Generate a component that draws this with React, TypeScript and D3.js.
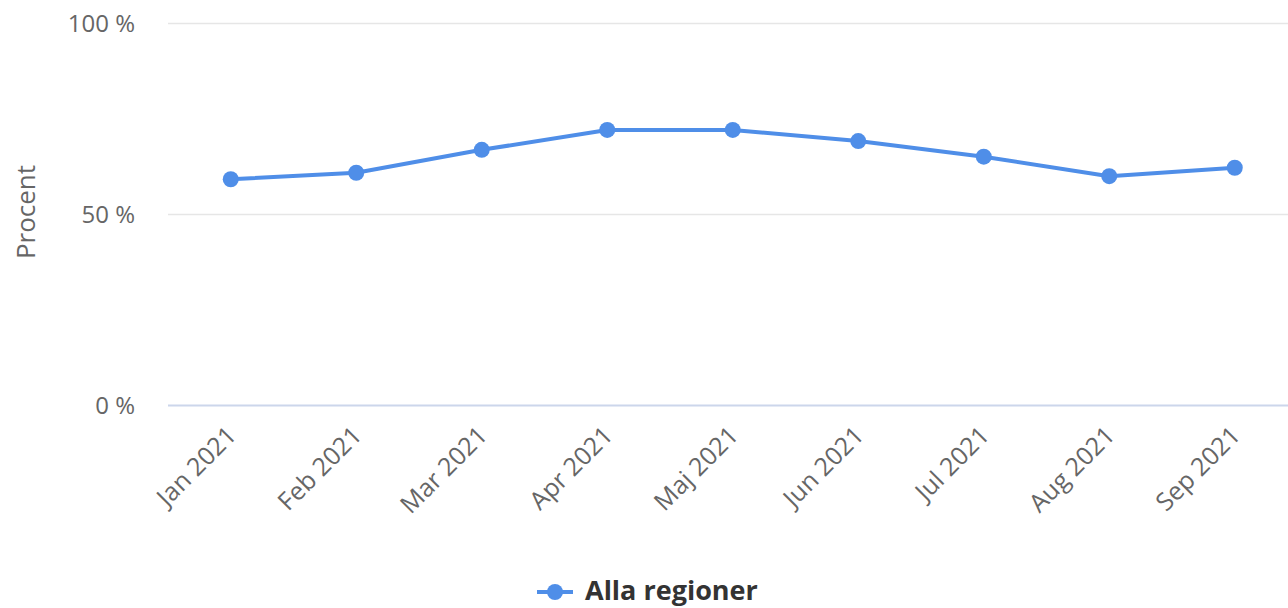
import React, { useEffect, useRef } from "react"
import * as d3 from "d3"

const WIDTH = 1288
const HEIGHT = 608

const months = ["Jan 2021", "Feb 2021", "Mar 2021", "Apr 2021", "Maj 2021", "Jun 2021", "Jul 2021", "Aug 2021", "Sep 2021"]
const allaRegioner = [59.1, 60.8, 66.8, 72.0, 72.0, 69.1, 65.0, 59.9, 62.1]
const yTicks = [0, 50, 100]
const seriesName = "Alla regioner"

const LINE_COLOR = "#4f8ee8"
const FONT = "'Open Sans', 'DejaVu Sans', sans-serif"

const App = () => {
	const svgRef = useRef<SVGSVGElement>(null)

	useEffect(() => {
		if (!svgRef.current) return
		const svg = d3.select(svgRef.current)
		svg.selectAll("*").remove()

		const margin = { top: 23, left: 168, bottom: HEIGHT - 405 }
		const bandWidth = 125.5
		const plotRight = margin.left + bandWidth * months.length

		const x = d3.scaleBand<string>().domain(months).range([margin.left, plotRight]).padding(0)
		const cx = (m: string) => (x(m) ?? 0) + x.bandwidth() / 2
		const y = d3.scaleLinear().domain([0, 100]).range([405, margin.top])

		// grid
		const grid = svg.append("g")
		grid.selectAll("line")
			.data(yTicks)
			.join("line")
			.attr("x1", margin.left)
			.attr("x2", plotRight)
			.attr("y1", (d) => y(d) + 0.5)
			.attr("y2", (d) => y(d) + 0.5)
			.attr("stroke", (d) => (d === 0 ? "#ccd6eb" : "#e6e6e6"))
			.attr("stroke-width", (d) => (d === 0 ? 2 : 1.5))

		// y labels
		svg.append("g")
			.selectAll("text")
			.data(yTicks)
			.join("text")
			.attr("x", 135)
			.attr("y", (d) => y(d) + 9)
			.attr("text-anchor", "end")
			.style("font-family", FONT)
			.style("font-size", "24px")
			.style("fill", "#666")
			.text((d) => `${d} %`)

		svg.append("text")
			.attr("transform", `translate(35,${y(50) - 2}) rotate(-90)`)
			.attr("text-anchor", "middle")
			.style("font-family", FONT)
			.style("font-size", "26px")
			.style("fill", "#666")
			.text("Procent")

		// x labels
		svg.append("g")
			.selectAll("text")
			.data(months)
			.join("text")
			.attr("transform", (d) => `translate(${cx(d) + 7},${y(0) + 32}) rotate(-45)`)
			.attr("text-anchor", "end")
			.style("font-family", FONT)
			.style("font-size", "25px")
			.style("fill", "#666")
			.text((d) => d)

		// series
		const line = d3.line<number>()
			.x((_, i) => cx(months[i]))
			.y((d) => y(d))

		svg.append("path")
			.datum(allaRegioner)
			.attr("fill", "none")
			.attr("stroke", LINE_COLOR)
			.attr("stroke-width", 4)
			.attr("stroke-linejoin", "round")
			.attr("d", line)

		svg.append("g")
			.selectAll("circle")
			.data(allaRegioner)
			.join("circle")
			.attr("cx", (_, i) => cx(months[i]))
			.attr("cy", (d) => y(d))
			.attr("r", 8)
			.attr("fill", LINE_COLOR)

		// legend
		const legend = svg.append("g").attr("transform", "translate(537,592)")
		legend.append("line")
			.attr("x1", 0)
			.attr("x2", 36)
			.attr("stroke", LINE_COLOR)
			.attr("stroke-width", 4)
		legend.append("circle").attr("cx", 18).attr("r", 8).attr("fill", LINE_COLOR)
		legend.append("text")
			.attr("x", 48)
			.attr("y", 8)
			.style("font-family", FONT)
			.style("font-size", "27px")
			.style("font-weight", "bold")
			.style("fill", "#333")
			.text(seriesName)
	}, [])

	return (
		<div style={{ position: "fixed", left: 0, top: 0, width: WIDTH, height: HEIGHT, background: "#fff" }}>
			<svg ref={svgRef} width={WIDTH} height={HEIGHT} style={{ display: "block" }}></svg>
		</div>
	)
}

export default App
